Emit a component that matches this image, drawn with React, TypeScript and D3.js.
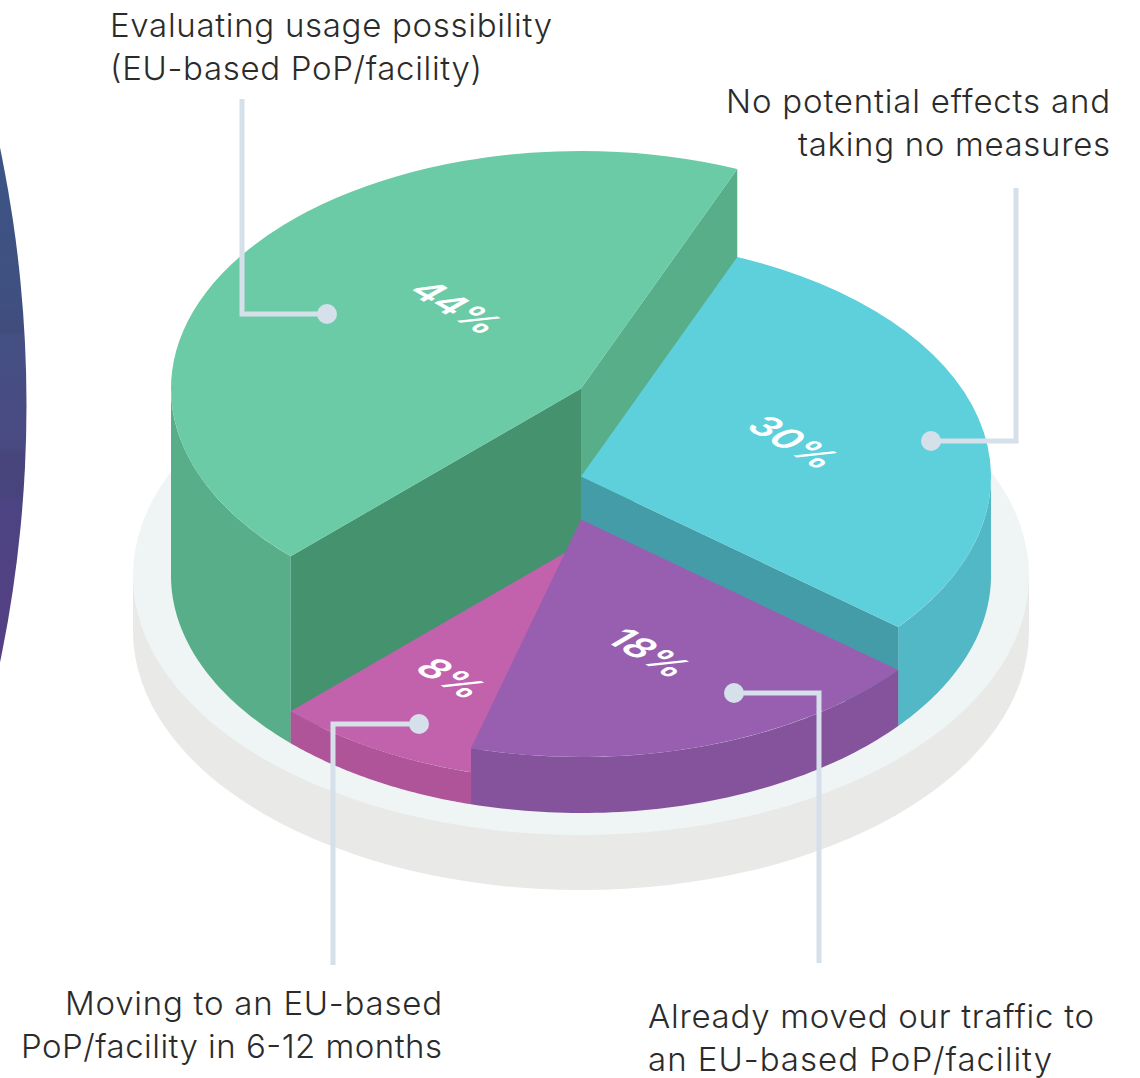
import * as d3 from "d3";

const WIDTH = 1140;
const HEIGHT = 1078;

// chart values, clockwise from the seam at the back of the pie
// measured off the slice angles in the picture, printed rounded (30, 18, 8, 44)
const sliceNames = ["No potential effects", "Already moved", "Moving in 6-12 months", "Evaluating"];
const sliceValues = [29.7, 18.4, 8.2, 43.7];

const labelLines = [
    ["No potential effects and", "taking no measures"],
    ["Already moved our traffic to", "an EU-based PoP/facility"],
    ["Moving to an EU-based", "PoP/facility in 6-12 months"],
    ["Evaluating usage possibility", "(EU-based PoP/facility)"],
];

// drawing of each slice: height above the base and colours
const sliceStyles = [
    { height: 99, top: "#5dd0db", outer: "#52b8c5", wall: "#449ca8" },
    { height: 56, top: "#985fb1", outer: "#84539c", wall: "#84539c" },
    { height: 32, top: "#c261ac", outer: "#b05499", wall: "#b05499" },
    { height: 187, top: "#6bcba6", outer: "#57ae89", wall: "#45926f" },
];

// where the percentage, the leader and the caption of each slice sit
const sliceLayout = [
    {
        pct: [794, 442],
        leader: [[1016, 188], [1016, 441], [931, 441]],
        caption: { x: 1110, y: 112.5, anchor: "end", widths: [384, 312] },
    },
    {
        pct: [650, 653],
        leader: [[819, 963], [819, 693], [734, 693]],
        caption: { x: 648, y: 1027.5, anchor: "start", widths: [446, 404] },
    },
    {
        pct: [452, 678],
        leader: [[333, 965], [333, 724], [419, 724]],
        caption: { x: 442, y: 1014.5, anchor: "end", widths: [377, 421] },
    },
    {
        pct: [457, 307],
        leader: [[242, 99], [242, 314], [327, 314]],
        caption: { x: 110, y: 36.5, anchor: "start", widths: [442, 372] },
    },
];

const cx = 581;
const baseY = 575.5;
const rx = 410;
const ry = 237.5;
const plate = { rx: 448, ry: 259, y: 576, depth: 55 };
const lineGap = 43;
const leaderColor = "#d5e0ea";
const textColor = "#2b2b2b";
const rad = Math.PI / 180;

const arcs = d3
    .pie<number>()
    .sort(null)
    .startAngle(22.4 * rad)
    .endAngle(382.4 * rad)(sliceValues);

const arcPath = d3.arc<any>().innerRadius(0).outerRadius(rx);
const pctFormat = d3.format(".0f");

// a curved band of the rim, seen from the front only
function outerWall(a0: number, a1: number, height: number) {
    const from = Math.max(a0, 90 * rad);
    const to = Math.min(a1, 270 * rad);
    return d3
        .area<number>()
        .x((a) => cx + rx * Math.sin(a))
        .y0((a) => baseY - ry * Math.cos(a))
        .y1((a) => baseY - height - ry * Math.cos(a))(
        d3.range(0, 61).map((i) => from + ((to - from) * i) / 60)
    );
}

// the flat cut from the centre to the rim at one angle
function radialWall(a: number, height: number) {
    return d3
        .area<number>()
        .x((t) => cx + t * rx * Math.sin(a))
        .y0((t) => baseY - t * ry * Math.cos(a))
        .y1((t) => baseY - height - t * ry * Math.cos(a))([0, 1]);
}

const leaderLine = d3.line();

// tallest slice first, then the cyan one, then the low slices in front
const paintOrder = [3, 0, 2, 1];

export default function App() {
    return (
        <svg
            width={WIDTH}
            height={HEIGHT}
            style={{ position: "absolute", left: 0, top: 0, background: "#fff" }}
        >
            <defs>
                <linearGradient id="edge" x1="0" y1="140" x2="0" y2="670" gradientUnits="userSpaceOnUse">
                    <stop offset="0" stopColor="#3c5585" />
                    <stop offset="0.3" stopColor="#3f5080" />
                    <stop offset="0.36" stopColor="#404c7c" />
                    <stop offset="0.37" stopColor="#444f82" />
                    <stop offset="0.58" stopColor="#4a4a82" />
                    <stop offset="0.59" stopColor="#47467c" />
                    <stop offset="0.67" stopColor="#49437c" />
                    <stop offset="0.68" stopColor="#4c4482" />
                    <stop offset="1" stopColor="#563f85" />
                </linearGradient>
            </defs>

            <circle cx={-1237} cy={405} r={1263.5} fill="url(#edge)" />

            <ellipse cx={cx} cy={plate.y + plate.depth} rx={plate.rx} ry={plate.ry} fill="#e9e9e7" />
            <rect
                x={cx - plate.rx}
                y={plate.y}
                width={plate.rx * 2}
                height={plate.depth}
                fill="#e9e9e7"
            />
            <ellipse cx={cx} cy={plate.y} rx={plate.rx} ry={plate.ry} fill="#eff4f4" />

            {paintOrder.map((i) => {
                const arc = arcs[i];
                const style = sliceStyles[i];
                const isTallest = style.height === d3.max(sliceStyles, (d) => d.height);
                return (
                    <g key={sliceNames[i]}>
                        <path d={outerWall(arc.startAngle, arc.endAngle, style.height) ?? ""} fill={style.outer} />
                        {i === 0 && <path d={radialWall(arc.endAngle, style.height) ?? ""} fill={style.wall} />}
                        {isTallest && <path d={radialWall(arc.startAngle, style.height) ?? ""} fill={style.wall} />}
                        {isTallest && <path d={radialWall(arc.endAngle, style.height) ?? ""} fill={style.outer} />}
                        <path
                            d={arcPath(arc) ?? ""}
                            fill={style.top}
                            transform={`translate(${cx},${baseY - style.height}) scale(1,${ry / rx})`}
                        />
                    </g>
                );
            })}

            {sliceValues.map((v, i) => (
                <text
                    key={sliceNames[i]}
                    transform={`translate(${sliceLayout[i].pct[0]},${sliceLayout[i].pct[1]}) matrix(0.866,0.5,-0.866,0.5,0,0)`}
                    textAnchor="middle"
                    dominantBaseline="central"
                    fontFamily="Inter"
                    fontWeight={600}
                    fontSize={38}
                    fill="#fff"
                >
                    {pctFormat(v)}%
                </text>
            ))}

            {sliceLayout.map((d, i) => (
                <g key={sliceNames[i]}>
                    <path
                        d={leaderLine(d.leader as [number, number][]) ?? ""}
                        fill="none"
                        stroke={leaderColor}
                        strokeWidth={5}
                    />
                    <circle cx={d.leader[2][0]} cy={d.leader[2][1]} r={10} fill={leaderColor} />
                    {labelLines[i].map((line, j) => (
                        <text
                            key={line}
                            x={d.caption.x}
                            y={d.caption.y + j * lineGap}
                            textAnchor={d.caption.anchor as "start" | "end"}
                            textLength={d.caption.widths[j]}
                            lengthAdjust="spacing"
                            fontFamily="Inter"
                            fontWeight={300}
                            fontSize={33}
                            fill={textColor}
                        >
                            {line}
                        </text>
                    ))}
                </g>
            ))}
        </svg>
    );
}
